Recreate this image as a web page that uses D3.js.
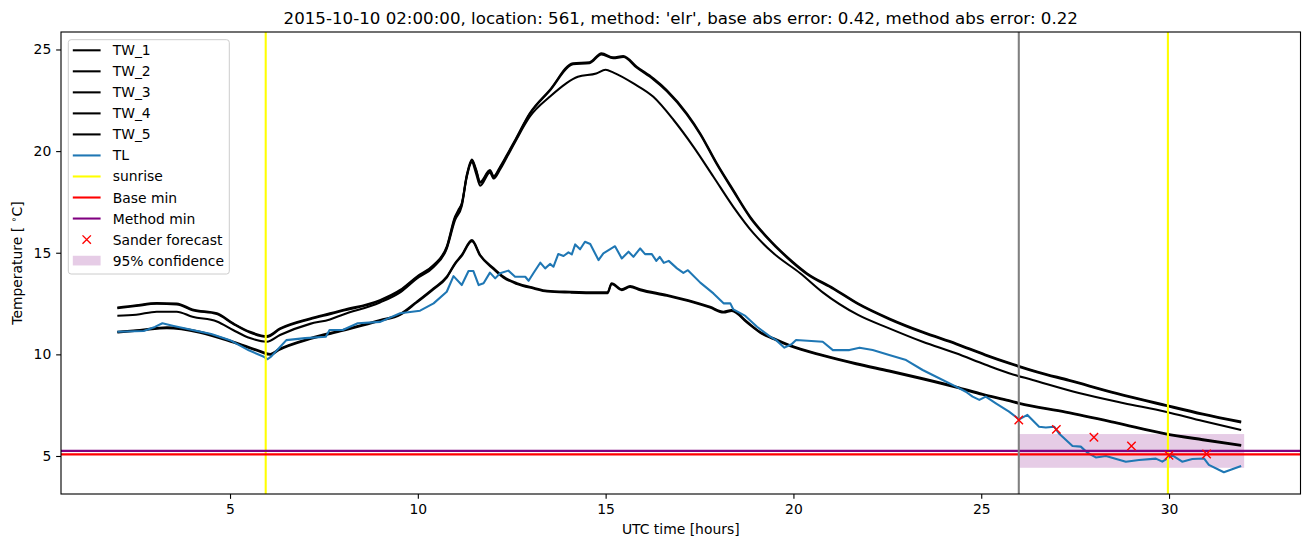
<!DOCTYPE html>
<html>
<head>
<meta charset="utf-8">
<script src="https://cdn.jsdelivr.net/npm/d3@7"></script>
<style>
  body { margin: 0; background: #fff; }
  text { font-family: "DejaVu Sans", sans-serif; fill: #000; }
</style>
</head>
<body>
<svg id="chart" width="1310" height="547"></svg>
<script>
// [hour, temperature] pairs
var tw1 = [[2.0,12.31],[2.5,12.42],[3.05,12.52],[3.58,12.5],[4.0,12.21],[4.65,12.02],[5.08,11.53],[5.53,11.11],[5.98,10.9],
  [6.33,11.28],[7.13,11.77],[7.66,12.02],[8.0,12.18],[8.99,12.67],[9.53,13.17],[9.97,13.82],[10.42,14.4],[10.77,15.3],
  [10.99,16.77],[11.08,17.1],[11.17,17.43],[11.3,18.8],[11.44,19.59],[11.55,19.1],[11.66,18.49],[11.92,19.07],[12.02,18.77],
  [12.19,19.23],[12.37,19.81],[12.59,20.54],[12.98,21.86],[13.51,23.0],[14.13,24.32],[14.57,24.37],[14.89,24.81],[15.2,24.61],
  [15.47,24.68],[15.83,24.15],[16.27,23.58],[16.63,23.0],[17.16,21.86],[17.52,20.87],[17.96,19.4],[18.4,18.08],[18.85,16.77],
  [19.29,15.79],[19.83,14.8],[20.36,13.99],[21.07,13.25],[21.72,12.51],[22.55,11.77],[23.44,11.11],[24.33,10.54],[25.1,10.0],
  [25.74,9.59],[26.5,9.15],[27.34,8.74],[28.6,8.1],[29.91,7.51],[30.9,7.08],[31.92,6.69]];
var tw2 = [[2.0,12.27],[2.5,12.38],[3.05,12.49],[3.58,12.46],[4.0,12.17],[4.65,11.98],[5.08,11.5],[5.53,11.07],[5.98,10.86],
  [6.33,11.24],[7.13,11.73],[7.66,11.98],[8.0,12.14],[8.99,12.63],[9.53,13.13],[9.97,13.78],[10.42,14.36],[10.77,15.25],
  [10.99,16.7],[11.08,17.05],[11.17,17.38],[11.3,18.74],[11.44,19.54],[11.55,19.05],[11.66,18.44],[11.92,19.02],[12.02,18.72],
  [12.19,19.18],[12.37,19.76],[12.59,20.5],[12.98,21.82],[13.51,22.96],[14.13,24.27],[14.57,24.33],[14.89,24.76],[15.2,24.57],
  [15.47,24.63],[15.83,24.1],[16.27,23.53],[16.63,22.95],[17.16,21.81],[17.52,20.82],[17.96,19.35],[18.4,18.03],[18.85,16.72],
  [19.29,15.75],[19.83,14.76],[20.36,13.95],[21.07,13.21],[21.72,12.47],[22.55,11.73],[23.44,11.07],[24.33,10.5],[25.1,9.96],
  [25.74,9.55],[26.5,9.11],[27.34,8.7],[28.6,8.06],[29.91,7.47],[30.9,7.04],[31.92,6.65]];
var tw3 = [[2.0,11.9],[2.5,11.95],[3.05,12.1],[3.58,12.1],[4.0,11.85],[4.65,11.62],[5.08,11.2],[5.53,10.8],[5.98,10.62],
  [6.33,10.95],[7.13,11.5],[7.66,11.72],[8.0,11.95],[8.99,12.55],[9.53,13.05],[9.97,13.72],[10.42,14.3],[10.77,15.2],
  [10.99,16.6],[11.17,17.3],[11.3,18.7],[11.44,19.45],[11.55,18.9],[11.66,18.3],[11.92,18.95],[12.02,18.65],[12.19,19.1],
  [12.37,19.7],[12.59,20.45],[12.98,21.69],[13.51,22.67],[14.26,23.66],[14.75,23.82],[15.0,24.0],[15.21,23.86],[15.74,23.33],
  [16.27,22.67],[16.81,21.53],[17.34,20.21],[17.87,18.74],[18.4,17.26],[18.94,15.95],[19.47,14.97],[20.18,13.99],[20.78,13.05],
  [21.72,11.94],[22.55,11.28],[23.44,10.62],[24.33,10.05],[25.1,9.5],[25.74,9.07],[26.37,8.74],[27.6,8.1],[28.8,7.6],[29.91,7.18],
  [30.9,6.72],[31.92,6.28]];
var tw4 = [[2.0,11.11],[2.6,11.2],[3.32,11.33],[4.2,11.11],[5.09,10.62],[5.8,10.17],[6.07,10.02],[6.3,10.25],[7.13,10.79],
  [8.0,11.2],[9.0,11.69],[9.53,11.98],[9.97,12.59],[10.42,13.25],[10.77,13.82],[10.99,14.48],[11.17,14.89],[11.44,15.62],
  [11.66,14.89],[12.02,14.23],[12.28,13.82],[12.64,13.5],[13.08,13.28],[13.44,13.13],[14.06,13.08],[14.77,13.05],[15.05,13.05],
  [15.16,13.5],[15.43,13.2],[15.65,13.36],[15.92,13.2],[16.63,12.92],[17.34,12.59],[17.78,12.34],[18.14,12.1],[18.36,12.18],
  [18.76,11.61],[19.11,11.11],[19.47,10.79],[19.89,10.46],[20.78,9.97],[21.67,9.56],[22.55,9.2],[23.44,8.82],[24.33,8.41],
  [25.04,8.05],[25.74,7.74],[26.01,7.61],[27.25,7.18],[28.6,6.65],[29.91,6.11],[30.9,5.82],[31.92,5.54]];
var tw5 = [[2.0,11.08],[2.6,11.17],[3.32,11.29],[4.2,11.07],[5.09,10.58],[5.8,10.13],[6.07,9.98],[6.3,10.21],[7.13,10.75],
  [8.0,11.16],[9.0,11.65],[9.53,11.94],[9.97,12.55],[10.42,13.21],[10.77,13.78],[10.99,14.44],[11.17,14.85],[11.44,15.57],
  [11.66,14.85],[12.02,14.19],[12.28,13.78],[12.64,13.46],[13.08,13.24],[13.44,13.09],[14.06,13.04],[14.77,13.01],[15.05,13.01],
  [15.16,13.46],[15.43,13.16],[15.65,13.32],[15.92,13.16],[16.63,12.88],[17.34,12.55],[17.78,12.3],[18.14,12.06],[18.36,12.14],
  [18.76,11.57],[19.11,11.07],[19.47,10.75],[19.89,10.42],[20.78,9.93],[21.67,9.52],[22.55,9.16],[23.44,8.78],[24.33,8.37],
  [25.04,8.01],[25.74,7.7],[26.01,7.57],[27.25,7.14],[28.6,6.61],[29.91,6.07],[30.9,5.78],[31.92,5.5]];
var tl = [[2.0,11.11],[2.7,11.15],[3.0,11.35],[3.2,11.53],[3.5,11.4],[4.0,11.2],[4.5,11.0],[5.0,10.7],[5.5,10.2],[5.9,9.88],
  [6.0,9.76],[6.1,9.9],[6.3,10.3],[6.5,10.7],[7.0,10.8],[7.55,10.87],[7.65,11.2],[8.0,11.2],[8.4,11.53],[9.0,11.6],[9.53,12.02],
  [10.06,12.15],[10.42,12.51],[10.77,13.08],[10.95,13.85],[11.17,13.41],[11.35,14.1],[11.48,14.1],[11.62,13.41],[11.75,13.5],
  [11.92,14.02],[12.06,13.74],[12.19,13.99],[12.41,14.12],[12.59,13.82],[12.86,13.82],[12.95,13.62],[13.08,14.0],[13.26,14.51],
  [13.39,14.23],[13.52,14.45],[13.61,14.31],[13.74,14.94],[13.88,14.84],[14.01,15.02],[14.1,14.92],[14.19,15.41],[14.32,15.17],
  [14.45,15.54],[14.59,15.43],[14.81,14.64],[14.94,14.97],[15.25,15.32],[15.43,14.72],[15.61,15.05],[15.74,14.8],[15.92,15.21],
  [16.05,14.93],[16.23,14.93],[16.35,14.6],[16.44,14.8],[16.55,14.5],[16.68,14.6],[16.9,14.23],[17.07,14.01],[17.19,14.14],
  [17.52,13.53],[17.87,13.0],[18.14,12.51],[18.32,12.51],[18.4,12.21],[18.72,11.89],[19.03,11.36],[19.38,10.87],[19.54,10.7],
  [19.76,10.33],[19.95,10.5],[20.07,10.71],[20.78,10.62],[21.05,10.21],[21.49,10.21],[21.76,10.33],[22.11,10.21],[22.55,9.97],
  [23.0,9.72],[23.44,9.23],[23.8,8.9],[24.33,8.41],[24.59,8.16],[24.77,7.92],[24.95,7.76],[25.12,7.92],[25.39,7.59],[25.74,7.18],
  [26.01,6.8],[26.23,7.02],[26.54,6.44],[26.72,6.4],[26.94,6.44],[27.07,6.11],[27.43,5.49],[27.65,5.46],[27.83,5.16],[28.05,4.93],
  [28.32,5.0],[28.85,4.72],[29.2,4.8],[29.65,4.87],[29.82,4.72],[30.09,5.03],[30.35,4.72],[30.62,4.85],[30.93,4.88],[31.06,4.56],
  [31.46,4.2],[31.68,4.35],[31.92,4.51]];

var sunrise = [5.95, 29.97];
var forecastStart = 26;
var baseMin = 5.08;
var methodMin = 5.25;
var forecastHours = [26, 27, 28, 29, 30, 31];
var forecastTemps = [6.77, 6.31, 5.92, 5.49, 5.03, 5.10];
var confidence = { x0: 26, x1: 32, lo: 4.42, hi: 6.08 };

var xTicks = [5, 10, 15, 20, 25, 30];
var yTicks = [5, 10, 15, 20, 25];
var legendLabels = ["TW_1", "TW_2", "TW_3", "TW_4", "TW_5", "TL", "sunrise", "Base min", "Method min", "Sander forecast", "95% confidence"];
var title = "2015-10-10 02:00:00, location: 561, method: 'elr', base abs error: 0.42, method abs error: 0.22";

var margin = { top: 32, left: 61, right: 9.5, bottom: 53 },
    W = 1310, H = 547,
    width = W - margin.left - margin.right,
    height = H - margin.top - margin.bottom,
    lw = 2.08;

var svg = d3.select("#chart");
var g = svg.append("g").attr("transform", "translate(" + margin.left + "," + margin.top + ")");

var x = d3.scaleLinear().domain([0.5, 33.5]).range([0, width]);
var y = d3.scaleLinear().domain([3.13, 25.86]).range([height, 0]);

// confidence band (lowest layer)
g.append("rect")
    .attr("x", x(confidence.x0)).attr("width", x(confidence.x1) - x(confidence.x0))
    .attr("y", y(confidence.hi)).attr("height", y(confidence.lo) - y(confidence.hi))
    .attr("fill", "purple").attr("fill-opacity", 0.2);

var line = d3.line().x(d => x(d[0])).y(d => y(d[1]));
var smooth = d3.line().x(d => x(d[0])).y(d => y(d[1])).curve(d3.curveMonotoneX);

[tw1, tw2, tw3, tw4, tw5].forEach(function(s) {
    g.append("path").datum(s)
        .attr("d", smooth)
        .attr("fill", "none").attr("stroke", "#000").attr("stroke-width", lw)
        .attr("stroke-linejoin", "round");
});

g.append("path").datum(tl)
    .attr("d", line)
    .attr("fill", "none").attr("stroke", "#1f77b4").attr("stroke-width", lw)
    .attr("stroke-linejoin", "round");

g.selectAll(".sunrise").data(sunrise).enter().append("line")
    .attr("x1", d => x(d)).attr("x2", d => x(d))
    .attr("y1", 0).attr("y2", height)
    .attr("stroke", "yellow").attr("stroke-width", lw);

g.append("line")
    .attr("x1", 0).attr("x2", width).attr("y1", y(baseMin)).attr("y2", y(baseMin))
    .attr("stroke", "red").attr("stroke-width", lw);

g.append("line")
    .attr("x1", 0).attr("x2", width).attr("y1", y(methodMin)).attr("y2", y(methodMin))
    .attr("stroke", "purple").attr("stroke-width", lw);

g.append("line")
    .attr("x1", x(forecastStart)).attr("x2", x(forecastStart))
    .attr("y1", 0).attr("y2", height)
    .attr("stroke", "gray").attr("stroke-width", lw);

var cross = function(sel, r) {
    sel.append("path")
        .attr("d", "M" + (-r) + "," + (-r) + "L" + r + "," + r + "M" + (-r) + "," + r + "L" + r + "," + (-r))
        .attr("stroke", "red").attr("stroke-width", 1.4).attr("fill", "none");
};

g.selectAll(".fc").data(forecastHours).enter().append("g")
    .attr("transform", (d, i) => "translate(" + x(d) + "," + y(forecastTemps[i]) + ")")
    .call(cross, 4.2);

// axes
var xAxis = d3.axisBottom(x).tickValues(xTicks).tickSize(4.86).tickPadding(4.86);
var yAxis = d3.axisLeft(y).tickValues(yTicks).tickSize(4.86).tickPadding(4.86);

var xa = g.append("g").attr("transform", "translate(0," + height + ")").call(xAxis);
var ya = g.append("g").call(yAxis);
[xa, ya].forEach(function(a) {
    a.select(".domain").remove();
    a.selectAll("line").attr("stroke-width", 1.11);
    a.selectAll("text").style("font-size", "13.9px").attr("font-family", "DejaVu Sans");
});

g.append("rect").attr("width", width).attr("height", height)
    .attr("fill", "none").attr("stroke", "#000").attr("stroke-width", 1.11);

// labels
svg.append("text").attr("x", margin.left + width / 2).attr("y", 24)
    .attr("text-anchor", "middle").style("font-size", "16.67px").text(title);

svg.append("text").attr("x", margin.left + width / 2).attr("y", 534)
    .attr("text-anchor", "middle").style("font-size", "13.9px").text("UTC time [hours]");

var yl = svg.append("text")
    .attr("transform", "translate(22," + (margin.top + height / 2) + ") rotate(-90)")
    .attr("text-anchor", "middle").style("font-size", "13.9px");
yl.append("tspan").text("Temperature [ ");
yl.append("tspan").attr("dy", -5).style("font-size", "9.7px").text("∘");
yl.append("tspan").attr("dy", 5).text("C]");

// legend
var leg = svg.append("g").attr("transform", "translate(68.3,39.7)");
leg.append("rect").attr("width", 161).attr("height", 234.3).attr("rx", 2.8)
    .attr("fill", "#fff").attr("fill-opacity", 0.8).attr("stroke", "#cccccc").attr("stroke-width", 1);

var legColors = ["#000", "#000", "#000", "#000", "#000", "#1f77b4", "yellow", "red", "purple"];
legendLabels.forEach(function(lab, i) {
    var cy = 10.6 + i * 21.03;
    var row = leg.append("g").attr("transform", "translate(0," + cy + ")");
    if (i < legColors.length) {
        row.append("line").attr("x1", 4.5).attr("x2", 32.3).attr("y1", 0).attr("y2", 0)
            .attr("stroke", legColors[i]).attr("stroke-width", lw);
    } else if (lab === "Sander forecast") {
        row.append("g").attr("transform", "translate(18.4,0)").call(cross, 4.2);
    } else {
        row.append("rect").attr("x", 4.5).attr("width", 27.8).attr("y", -4.85).attr("height", 9.7)
            .attr("fill", "purple").attr("fill-opacity", 0.2);
    }
    row.append("text").attr("x", 44.4).attr("y", 5).style("font-size", "13.9px").text(lab);
});
</script>
</body>
</html>
